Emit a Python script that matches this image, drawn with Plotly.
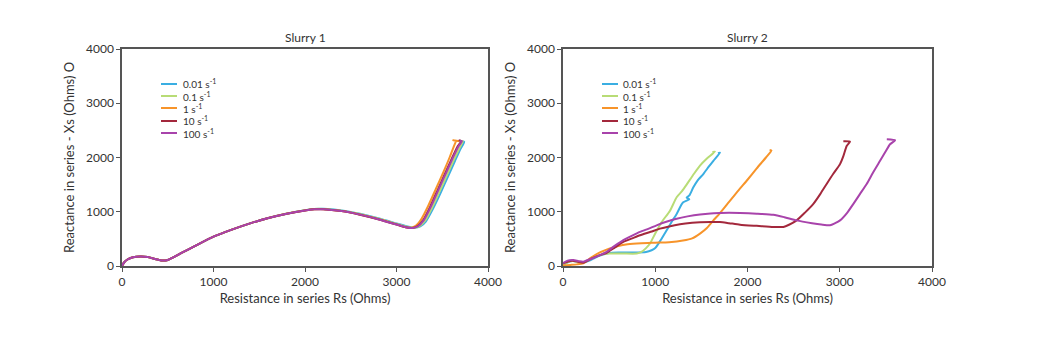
import plotly.graph_objects as go

names = ["0.01 s<sup>-1</sup>", "0.1 s<sup>-1</sup>", "1 s<sup>-1</sup>", "10 s<sup>-1</sup>", "100 s<sup>-1</sup>"]
colors = ["#3aaee2", "#b8dc76", "#f7942a", "#a3283c", "#a843ab"]

# ---------------- Slurry 1 ----------------
s1_blue_x = [0, 20, 60, 120, 200, 280, 360, 440, 500, 560, 650, 800, 1000, 1200, 1400, 1600, 1800, 2000, 2100, 2200, 2400, 2600, 2800, 3000, 3120, 3200, 3260, 3320, 3400, 3480, 3560, 3640, 3700, 3740, 3720]
s1_blue_y = [0, 60, 120, 160, 175, 165, 130, 100, 110, 160, 240, 370, 540, 670, 785, 885, 965, 1028, 1050, 1055, 1025, 962, 880, 785, 728, 705, 730, 820, 1060, 1340, 1640, 1940, 2160, 2290, 2300]
s1_green_x = [0, 20, 60, 120, 200, 280, 360, 440, 500, 560, 650, 800, 1000, 1200, 1400, 1600, 1800, 2000, 2100, 2200, 2400, 2600, 2800, 3000, 3110, 3190, 3250, 3310, 3390, 3470, 3550, 3630, 3690, 3725, 3700]
s1_green_y = [0, 60, 120, 160, 175, 165, 130, 100, 110, 160, 240, 370, 540, 670, 785, 885, 967, 1030, 1052, 1052, 1018, 955, 872, 776, 722, 702, 735, 830, 1080, 1370, 1670, 1970, 2180, 2300, 2310]
s1_orange_x = [0, 20, 60, 120, 200, 280, 360, 440, 500, 560, 650, 800, 1000, 1200, 1400, 1600, 1800, 2000, 2100, 2200, 2400, 2600, 2800, 3000, 3090, 3150, 3210, 3270, 3350, 3430, 3510, 3580, 3630, 3650, 3620, 3690]
s1_orange_y = [0, 60, 120, 160, 175, 165, 130, 100, 110, 160, 240, 370, 540, 670, 785, 885, 965, 1025, 1045, 1048, 1013, 948, 865, 768, 718, 700, 740, 860, 1120, 1420, 1720, 2000, 2220, 2310, 2320, 2300]
s1_red_x = [0, 20, 60, 120, 200, 280, 360, 440, 500, 560, 650, 800, 1000, 1200, 1400, 1600, 1800, 2000, 2100, 2200, 2400, 2600, 2800, 3000, 3100, 3170, 3230, 3290, 3370, 3450, 3530, 3610, 3670, 3710, 3680]
s1_red_y = [0, 60, 120, 160, 175, 165, 130, 100, 110, 160, 240, 370, 540, 670, 785, 885, 965, 1025, 1044, 1046, 1012, 946, 862, 765, 714, 700, 735, 840, 1100, 1400, 1700, 2000, 2210, 2305, 2320]
s1_purple_x = [0, 20, 60, 120, 200, 280, 360, 440, 500, 560, 650, 800, 1000, 1200, 1400, 1600, 1800, 2000, 2100, 2200, 2400, 2600, 2800, 3000, 3100, 3175, 3235, 3295, 3375, 3455, 3535, 3615, 3675, 3715, 3690]
s1_purple_y = [0, 60, 120, 160, 175, 165, 130, 100, 110, 160, 240, 370, 540, 670, 785, 885, 965, 1025, 1045, 1047, 1013, 947, 863, 766, 716, 701, 733, 835, 1090, 1390, 1690, 1990, 2200, 2300, 2315]

# ---------------- Slurry 2 ----------------
s2_blue_x = [0, 40, 100, 160, 220, 300, 400, 500, 600, 750, 900, 960, 1000, 1060, 1124, 1180, 1232, 1300, 1370, 1340, 1370, 1413, 1460, 1521, 1580, 1630, 1702, 1680]
s2_blue_y = [20, 60, 90, 80, 60, 110, 190, 240, 250, 250, 260, 290, 330, 480, 660, 820, 960, 1170, 1230, 1260, 1300, 1450, 1580, 1695, 1830, 1940, 2090, 2080]
s2_green_x = [0, 50, 110, 180, 230, 300, 400, 500, 650, 800, 850, 900, 943, 1000, 1070, 1160, 1232, 1290, 1340, 1420, 1485, 1560, 1647, 1620]
s2_green_y = [30, 70, 90, 70, 70, 130, 200, 230, 230, 230, 260, 330, 415, 600, 810, 1020, 1268, 1380, 1500, 1700, 1850, 1980, 2110, 2100]
s2_orange_x = [0, 80, 150, 220, 300, 400, 500, 600, 700, 850, 1000, 1150, 1300, 1400, 1485, 1560, 1630, 1700, 1800, 1900, 2000, 2100, 2200, 2260, 2240]
s2_orange_y = [10, 20, 30, 50, 150, 250, 320, 370, 400, 420, 430, 440, 470, 510, 598, 700, 841, 970, 1180, 1390, 1590, 1800, 2000, 2130, 2140]
s2_red_x = [0, 50, 100, 160, 220, 300, 400, 473, 560, 654, 750, 835, 950, 1052, 1150, 1268, 1400, 1485, 1600, 1702, 1800, 1919, 2100, 2280, 2389, 2450, 2533, 2620, 2714, 2790, 2858, 2930, 3003, 3040, 3075, 3111, 3039]
s2_red_y = [50, 80, 95, 80, 60, 130, 200, 244, 340, 445, 510, 567, 630, 689, 730, 768, 795, 805, 810, 811, 790, 762, 740, 720, 720, 760, 841, 980, 1146, 1330, 1512, 1700, 1878, 2030, 2213, 2293, 2300]
s2_purple_x = [0, 50, 112, 170, 220, 300, 400, 473, 560, 654, 750, 835, 930, 1015, 1120, 1232, 1350, 1485, 1600, 1702, 1800, 1919, 2100, 2280, 2400, 2533, 2700, 2800, 2894, 2950, 3003, 3080, 3148, 3220, 3292, 3360, 3437, 3500, 3545, 3600, 3510]
s2_purple_y = [50, 100, 110, 90, 80, 130, 200, 262, 370, 476, 560, 628, 690, 750, 815, 872, 915, 951, 970, 976, 980, 976, 965, 945, 900, 841, 790, 765, 750, 790, 841, 980, 1146, 1330, 1512, 1720, 1939, 2120, 2244, 2317, 2335]

s1 = [(s1_blue_x, s1_blue_y), (s1_green_x, s1_green_y), (s1_orange_x, s1_orange_y), (s1_red_x, s1_red_y), (s1_purple_x, s1_purple_y)]
s2 = [(s2_blue_x, s2_blue_y), (s2_green_x, s2_green_y), (s2_orange_x, s2_orange_y), (s2_red_x, s2_red_y), (s2_purple_x, s2_purple_y)]

tick_vals = [0, 1000, 2000, 3000, 4000]
tick_text = ["0", "1000", "2000", "3000", "4000"]

FONT = "Lato"
W, H = 1050, 338
fig = go.Figure()

for i, (x, y) in enumerate(s1):
    fig.add_trace(go.Scatter(x=x, y=y, mode="lines", name=names[i], showlegend=False,
                             line=dict(color=colors[i], width=2, shape="spline", smoothing=0.6),
                             xaxis="x", yaxis="y"))
for i, (x, y) in enumerate(s2):
    fig.add_trace(go.Scatter(x=x, y=y, mode="lines", name=names[i], showlegend=False,
                             line=dict(color=colors[i], width=2, shape="spline", smoothing=0.6),
                             xaxis="x2", yaxis="y2"))

axis_common = dict(range=[0, 4000], tickvals=tick_vals, ticktext=tick_text,
                   showgrid=False, zeroline=False, showline=True, mirror=True,
                   linecolor="#555555", linewidth=1.5, ticks="outside", ticklen=4,
                   tickcolor="#555555", tickfont=dict(size=12, color="#333333", family=FONT),
                   fixedrange=True, automargin=False)

ytop = 1 - 49 / H
ybot = 1 - 266 / H

xt = dict(text="Resistance in series Rs (Ohms)", font=dict(size=13), standoff=6)
yt = dict(text="Reactance in series - Xs (Ohms) O", font=dict(size=13), standoff=8)

# manual legends (lines + labels), placed in paper coordinates
shapes = []
annotations = []
legend_rows = [84, 96, 108, 121, 133]
for x0, xl in [(161, 181), (602, 621)]:
    for i, yy in enumerate(legend_rows):
        shapes.append(dict(type="line", xref="paper", yref="paper",
                           x0=x0 / W, x1=(x0 + 16) / W, y0=1 - yy / H, y1=1 - yy / H,
                           line=dict(color=colors[i], width=2)))
        annotations.append(dict(text=names[i], x=xl / W, y=1 - yy / H, xref="paper", yref="paper",
                                showarrow=False, xanchor="left", yanchor="middle",
                                font=dict(size=10, color="#333333")))

annotations.append(dict(text="Slurry 1", x=(122 + 488) / 2 / W, y=1 - 37 / H, xref="paper", yref="paper",
                        showarrow=False, font=dict(size=12, color="#333333"), xanchor="center", yanchor="middle"))
annotations.append(dict(text="Slurry 2", x=(563 + 932) / 2 / W, y=1 - 37 / H, xref="paper", yref="paper",
                        showarrow=False, font=dict(size=12, color="#333333"), xanchor="center", yanchor="middle"))

fig.update_layout(
    width=W, height=H,
    margin=dict(l=0, r=0, t=0, b=0, autoexpand=False),
    paper_bgcolor="white", plot_bgcolor="white",
    font=dict(family=FONT, color="#333333", size=12),
    showlegend=False,
    xaxis=dict(axis_common, domain=[122 / W, 488 / W], anchor="y", title=xt),
    yaxis=dict(axis_common, domain=[ybot, ytop], anchor="x", title=yt),
    xaxis2=dict(axis_common, domain=[563 / W, 932 / W], anchor="y2", title=xt),
    yaxis2=dict(axis_common, domain=[ybot, ytop], anchor="x2", title=yt),
    shapes=shapes,
    annotations=annotations,
)

fig.write_html("out.html")
